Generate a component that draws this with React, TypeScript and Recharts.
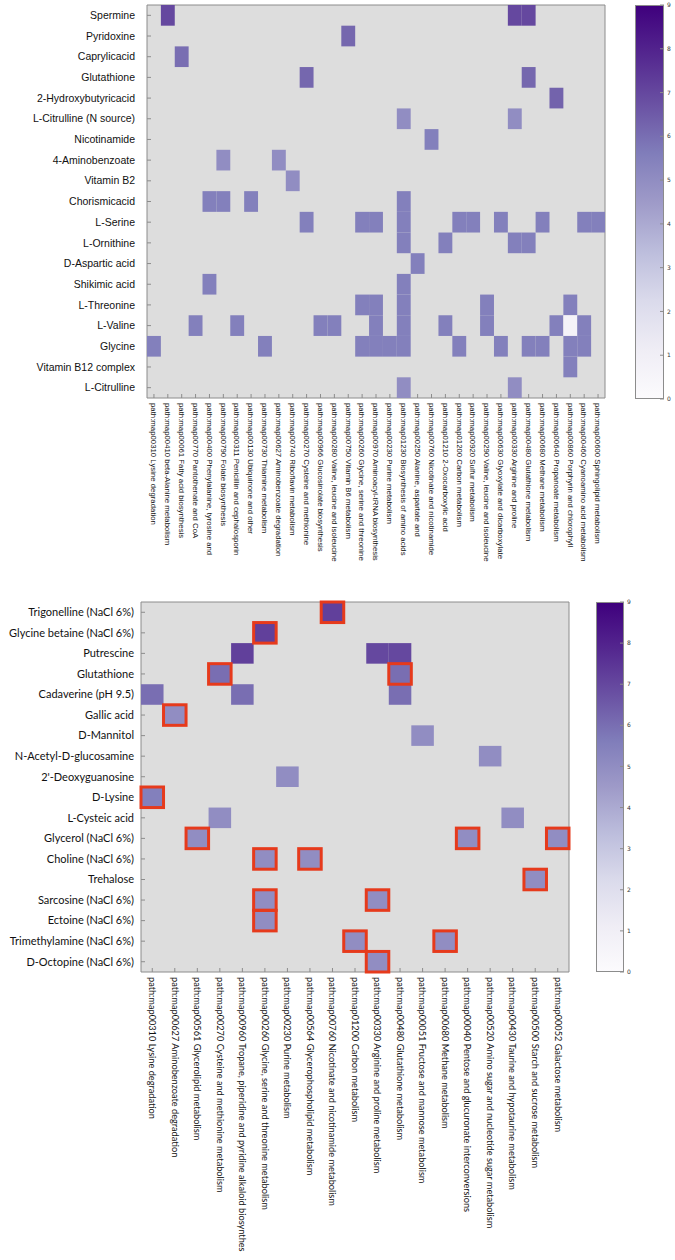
import { CartesianGrid, Scatter, ScatterChart, XAxis, YAxis } from "recharts";

// ---- upper panel ----
const topCompounds = [
  "Spermine",
  "Pyridoxine",
  "Caprylicacid",
  "Glutathione",
  "2-Hydroxybutyricacid",
  "L-Citrulline (N source)",
  "Nicotinamide",
  "4-Aminobenzoate",
  "Vitamin B2",
  "Chorismicacid",
  "L-Serine",
  "L-Ornithine",
  "D-Aspartic acid",
  "Shikimic acid",
  "L-Threonine",
  "L-Valine",
  "Glycine",
  "Vitamin B12 complex",
  "L-Citrulline",
];

const topPathways = [
  "path:map00310 Lysine degradation",
  "path:map00410 beta-Alanine metabolism",
  "path:map00061 Fatty acid biosynthesis",
  "path:map00770 Pantothenate and CoA",
  "path:map00400 Phenylalanine, tyrosine and",
  "path:map00790 Folate biosynthesis",
  "path:map00311 Penicillin and cephalosporin",
  "path:map00130 Ubiquinone and other",
  "path:map00730 Thiamine metabolism",
  "path:map00627 Aminobenzoate degradation",
  "path:map00740 Riboflavin metabolism",
  "path:map00270 Cysteine and methionine",
  "path:map00966 Glucosinolate biosynthesis",
  "path:map00280 Valine, leucine and isoleucine",
  "path:map00750 Vitamin B6 metabolism",
  "path:map00260 Glycine, serine and threonine",
  "path:map00970 Aminoacyl-tRNA biosynthesis",
  "path:map00230 Purine metabolism",
  "path:map01230 Biosynthesis of amino acids",
  "path:map00250 Alanine, aspartate and",
  "path:map00760 Nicotinate and nicotinamide",
  "path:map01210 2-Oxocarboxylic acid",
  "path:map01200 Carbon metabolism",
  "path:map00920 Sulfur metabolism",
  "path:map00290 Valine, leucine and isoleucine",
  "path:map00630 Glyoxylate and dicarboxylate",
  "path:map00330 Arginine and proline",
  "path:map00480 Glutathione metabolism",
  "path:map00680 Methane metabolism",
  "path:map00640 Propanoate metabolism",
  "path:map00860 Porphyrin and chlorophyll",
  "path:map00460 Cyanoamino acid metabolism",
  "path:map00600 Sphingolipid metabolism",
];

// [row, column, value]
const topCells: [number, number, number][] = [
  [0, 1, 7], [0, 26, 7], [0, 27, 7],
  [1, 14, 6.2],
  [2, 2, 6],
  [3, 11, 6.2], [3, 27, 6.2],
  [4, 29, 6.3],
  [5, 18, 5], [5, 26, 5],
  [6, 20, 5.5],
  [7, 5, 5], [7, 9, 5],
  [8, 10, 5],
  [9, 4, 5.5], [9, 5, 5.5], [9, 7, 5.5], [9, 18, 5.5],
  [10, 11, 5.5], [10, 15, 5.5], [10, 16, 5.5], [10, 18, 5.5], [10, 22, 5.5],
  [10, 23, 5.5], [10, 25, 5.5], [10, 28, 5.5], [10, 31, 5.5], [10, 32, 5.5],
  [11, 18, 5.5], [11, 21, 5.5], [11, 26, 5.5], [11, 27, 5.5],
  [12, 19, 5.5],
  [13, 4, 5.5], [13, 18, 5.5],
  [14, 15, 5.5], [14, 16, 5.5], [14, 18, 5.5], [14, 24, 5.5], [14, 30, 5.5],
  [15, 3, 5.5], [15, 6, 5.5], [15, 12, 5.5], [15, 13, 5.5], [15, 16, 5.5],
  [15, 18, 5.5], [15, 21, 5.5], [15, 24, 5.5], [15, 29, 5.5], [15, 30, 0.7], [15, 31, 5.5],
  [16, 0, 5.5], [16, 8, 5.5], [16, 15, 5.5], [16, 16, 5.5], [16, 17, 5.5],
  [16, 18, 5.5], [16, 22, 5.5], [16, 25, 5.5], [16, 27, 5.5], [16, 28, 5.5],
  [16, 30, 5.5], [16, 31, 5.5],
  [17, 30, 5.5],
  [18, 18, 5], [18, 26, 5],
];

// ---- lower panel ----
const bottomCompounds = [
  "Trigonelline (NaCl 6%)",
  "Glycine betaine (NaCl 6%)",
  "Putrescine",
  "Glutathione",
  "Cadaverine (pH 9.5)",
  "Gallic acid",
  "D-Mannitol",
  "N-Acetyl-D-glucosamine",
  "2'-Deoxyguanosine",
  "D-Lysine",
  "L-Cysteic acid",
  "Glycerol (NaCl 6%)",
  "Choline (NaCl 6%)",
  "Trehalose",
  "Sarcosine (NaCl 6%)",
  "Ectoine (NaCl 6%)",
  "Trimethylamine (NaCl 6%)",
  "D-Octopine (NaCl 6%)",
];

const bottomPathways = [
  "path:map00310 Lysine degradation",
  "path:map00627 Aminobenzoate degradation",
  "path:map00561 Glycerolipid metabolism",
  "path:map00270 Cysteine and methionine metabolism",
  "path:map00960 Tropane, piperidine and pyridine alkaloid biosynthes",
  "path:map00260 Glycine, serine and threonine metabolism",
  "path:map00230 Purine metabolism",
  "path:map00564 Glycerophospholipid metabolism",
  "path:map00760 Nicotinate and nicotinamide metabolism",
  "path:map01200 Carbon metabolism",
  "path:map00330 Arginine and proline metabolism",
  "path:map00480 Glutathione metabolism",
  "path:map00051 Fructose and mannose metabolism",
  "path:map00680 Methane metabolism",
  "path:map00040 Pentose and glucuronate interconversions",
  "path:map00520 Amino sugar and nucleotide sugar metabolism",
  "path:map00430 Taurine and hypotaurine metabolism",
  "path:map00500 Starch and sucrose metabolism",
  "path:map00052 Galactose metabolism",
];

// [row, column, value, outlined in red]
const bottomCells: [number, number, number, boolean][] = [
  [0, 8, 7.2, true],
  [1, 5, 7.2, true],
  [2, 4, 7.2, false], [2, 10, 7, false], [2, 11, 7, false],
  [3, 3, 6, true], [3, 11, 6, true],
  [4, 0, 6, false], [4, 4, 6, false], [4, 11, 6, false],
  [5, 1, 5, true],
  [6, 12, 5, false],
  [7, 15, 5, false],
  [8, 6, 5, false],
  [9, 0, 5.5, true],
  [10, 3, 5, false], [10, 16, 5, false],
  [11, 2, 5, true], [11, 14, 5, true], [11, 18, 5, true],
  [12, 5, 5, true], [12, 7, 5, true],
  [13, 17, 5, true],
  [14, 5, 5, true], [14, 10, 5, true],
  [15, 5, 5, true],
  [16, 9, 5, true], [16, 13, 5, true],
  [17, 10, 5, true],
];

const scaleTicks = [0, 1, 2, 3, 4, 5, 6, 7, 8, 9];

const PURPLES = [
  "#fcfbfd", "#efedf5", "#dadaeb", "#bcbddc", "#9e9ac8",
  "#807dba", "#6a51a3", "#54278f", "#3f007d",
];

function hexToRgb(h: string) {
  return [1, 3, 5].map((i) => parseInt(h.slice(i, i + 2), 16));
}

function purple(v: number) {
  const t = Math.max(0, Math.min(1, v / 9)) * (PURPLES.length - 1);
  const i = Math.min(Math.floor(t), PURPLES.length - 2);
  const f = t - i;
  const a = hexToRgb(PURPLES[i]);
  const b = hexToRgb(PURPLES[i + 1]);
  const c = a.map((x, k) => Math.round(x + (b[k] - x) * f));
  return `rgb(${c[0]},${c[1]},${c[2]})`;
}

interface HeatmapProps {
  rows: string[];
  cols: string[];
  cells: [number, number, number, boolean?][];
  width: number;
  height: number;
  left: number;
  right: number;
  top: number;
  bottom: number;
  font: string;
  yFontSize: number;
  xFontSize: number;
  labelGap: number;
}

const EmptyTick = () => <g />;

function Heatmap(props: HeatmapProps) {
  const { rows, cols, cells, width, height, left, right, top, bottom } = props;
  const cw = (width - left - right) / cols.length;
  const ch = (height - top - bottom) / rows.length;
  const data = cells.map(([r, c, v, b]) => ({ x: c, y: r, v, boxed: !!b }));
  const outlined = data.filter((d) => d.boxed);
  const colIdx = cols.map((_, i) => i);
  const rowIdx = rows.map((_, i) => i);
  const xDomain = [-0.5, cols.length - 0.5];
  const yDomain = [-0.5, rows.length - 0.5];

  const CellShape = (p: any) => (
    <rect
      x={p.cx - cw / 2}
      y={p.cy - ch / 2}
      width={cw}
      height={ch}
      fill={purple(p.payload.v)}
    />
  );

  const BoxShape = (p: any) => (
    <rect
      x={p.cx - cw / 2}
      y={p.cy - ch / 2}
      width={cw}
      height={ch}
      fill="none"
      stroke="#e63a1c"
      strokeWidth={3}
    />
  );

  const YTick = (p: any) => (
    <text
      x={left - props.labelGap}
      y={p.y}
      dy="0.35em"
      textAnchor="end"
      fontSize={props.yFontSize}
      fontFamily={props.font}
      fill="#111"
    >
      {rows[p.payload.value]}
    </text>
  );

  const XTick = (p: any) => {
    const y = height - bottom + 5;
    return (
      <text
        x={p.x}
        y={y}
        dy="0.35em"
        transform={`rotate(90, ${p.x}, ${y})`}
        textAnchor="start"
        fontSize={props.xFontSize}
        fontFamily={props.font}
        fill="#111"
      >
        {cols[p.payload.value]}
      </text>
    );
  };

  return (
    <ScatterChart
      width={width}
      height={height}
      margin={{ top: 0, right: 0, bottom: 0, left: 0 }}
    >
      <CartesianGrid
        fill="#dddddd"
        horizontal={false}
        vertical={false}
        stroke="none"
      />
      <XAxis
        type="number"
        dataKey="x"
        domain={xDomain}
        ticks={colIdx}
        interval={0}
        height={bottom}
        tickSize={-4}
        tick={<XTick />}
        stroke="#8c8c8c"
      />
      <XAxis
        xAxisId="t"
        orientation="top"
        type="number"
        dataKey="x"
        domain={xDomain}
        ticks={colIdx}
        interval={0}
        height={top}
        tickSize={-4}
        tick={<EmptyTick />}
        stroke="#8c8c8c"
      />
      <YAxis
        type="number"
        dataKey="y"
        domain={yDomain}
        reversed
        ticks={rowIdx}
        interval={0}
        width={left}
        tickSize={-4}
        tick={<YTick />}
        stroke="#8c8c8c"
      />
      <YAxis
        yAxisId="r"
        orientation="right"
        type="number"
        dataKey="y"
        domain={yDomain}
        reversed
        ticks={rowIdx}
        interval={0}
        width={right}
        tickSize={-4}
        tick={<EmptyTick />}
        stroke="#8c8c8c"
      />
      <Scatter data={data} shape={<CellShape />} isAnimationActive={false} />
      <Scatter data={outlined} shape={<BoxShape />} isAnimationActive={false} />
    </ScatterChart>
  );
}

function ColorBar({ id, x, y, w, h }: { id: string; x: number; y: number; w: number; h: number }) {
  return (
    <svg
      width={w + 10}
      height={h + 8}
      style={{ position: "absolute", left: x, top: y - 4 }}
    >
      <defs>
        <linearGradient id={id} x1="0" y1="1" x2="0" y2="0">
          {PURPLES.map((c, i) => (
            <stop key={c} offset={i / (PURPLES.length - 1)} stopColor={c} />
          ))}
        </linearGradient>
      </defs>
      <rect x={0.5} y={4.5} width={w - 1} height={h - 1} fill={`url(#${id})`} stroke="#8c8c8c" />
      {scaleTicks.map((t) => {
        const ty = 4 + h - (t / 9) * h;
        return (
          <g key={t}>
            <line x1={w - 4} x2={w} y1={ty} y2={ty} stroke="#8c8c8c" />
            <text x={w + 3} y={ty} dy="0.35em" fontSize={6} fontFamily="DejaVu Sans" fill="#333">
              {t}
            </text>
          </g>
        );
      })}
    </svg>
  );
}

export default function App() {
  return (
    <div
      style={{
        position: "fixed",
        left: 0,
        top: 0,
        width: 675,
        height: 1260,
        background: "#fff",
      }}
    >
      <div style={{ position: "absolute", left: 0, top: 0 }}>
        <Heatmap
          rows={topCompounds}
          cols={topPathways}
          cells={topCells}
          width={675}
          height={600}
          left={147}
          right={70}
          top={5}
          bottom={202}
          font="'Liberation Sans', Arial, sans-serif"
          yFontSize={10.5}
          xFontSize={7.8}
          labelGap={12}
        />
      </div>
      <ColorBar id="cbTop" x={635} y={5} w={29} h={394} />
      <div style={{ position: "absolute", left: 0, top: 597 }}>
        <Heatmap
          rows={bottomCompounds}
          cols={bottomPathways}
          cells={bottomCells}
          width={675}
          height={663}
          left={141}
          right={106}
          top={5}
          bottom={288}
          font="Lato, 'Open Sans', sans-serif"
          yFontSize={11}
          xFontSize={9.2}
          labelGap={7}
        />
      </div>
      <ColorBar id="cbBottom" x={596} y={602} w={28} h={370} />
    </div>
  );
}
